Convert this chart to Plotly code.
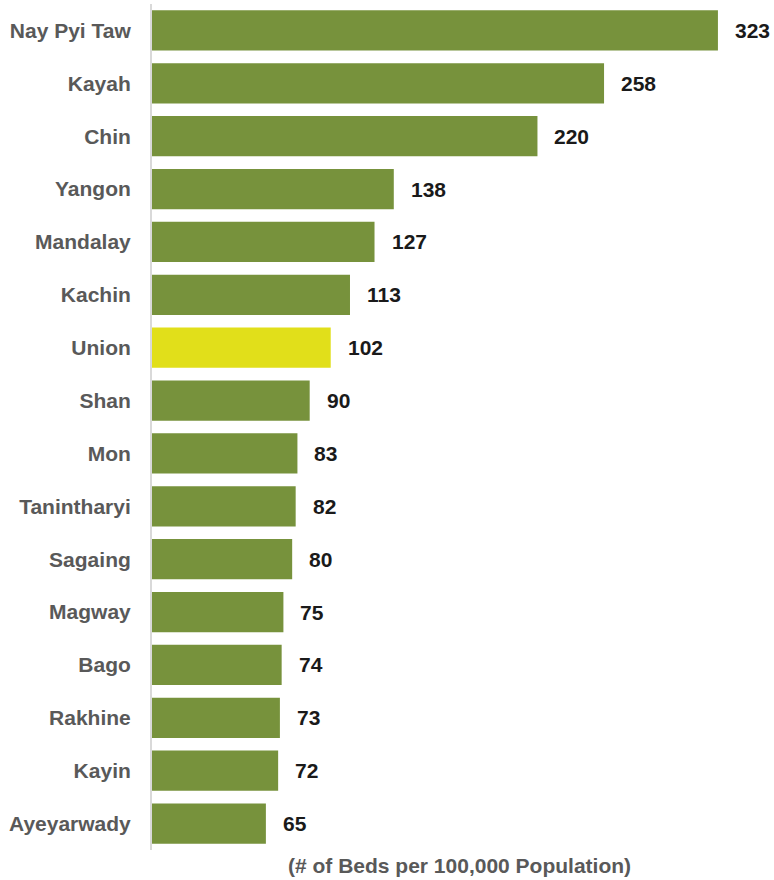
import plotly.graph_objects as go

# Hospital beds per 100,000 population by State/Region
regions = ["Nay Pyi Taw", "Kayah", "Chin", "Yangon", "Mandalay", "Kachin", "Union",
           "Shan", "Mon", "Tanintharyi", "Sagaing", "Magway", "Bago", "Rakhine",
           "Kayin", "Ayeyarwady"]
beds = [323, 258, 220, 138, 127, 113, 102, 90, 83, 82, 80, 75, 74, 73, 72, 65]

GREEN = "#77923C"
YELLOW = "#E1DF1A"
colors = [YELLOW if r == "Union" else GREEN for r in regions]

FONT = "Liberation Sans, Arial, sans-serif"

fig = go.Figure(go.Bar(
    x=beds,
    y=regions,
    orientation="h",
    marker=dict(color=colors, line=dict(width=0)),
    width=0.76,
    hoverinfo="skip",
))

# value labels to the right of each bar
for r, v in zip(regions, beds):
    fig.add_annotation(
        x=v, y=r, text=f"<b>{v}</b>", showarrow=False,
        xanchor="left", yanchor="middle", xshift=15,
        font=dict(family=FONT, size=21, color="#1a1a1a"),
    )

# axis caption
fig.add_annotation(
    xref="paper", yref="paper", x=0.494, y=0, yshift=-15,
    text="<b>(# of Beds per 100,000 Population)</b>", showarrow=False,
    xanchor="center", yanchor="middle",
    font=dict(family=FONT, size=21, color="#595959"),
)

fig.update_layout(
    width=774, height=880,
    margin=dict(l=152, r=0, t=4, b=30),
    paper_bgcolor="white", plot_bgcolor="white",
    showlegend=False,
    xaxis=dict(range=[0, 355], visible=False, fixedrange=True),
    yaxis=dict(
        autorange="reversed",
        showline=True, linecolor="#D9D9D9", linewidth=2,
        showgrid=False, zeroline=False,
        ticks="", ticklabelstandoff=15,
        tickfont=dict(family=FONT, size=21, color="#595959", weight="bold"),
        fixedrange=True,
    ),
)

fig.write_html("out.html")
